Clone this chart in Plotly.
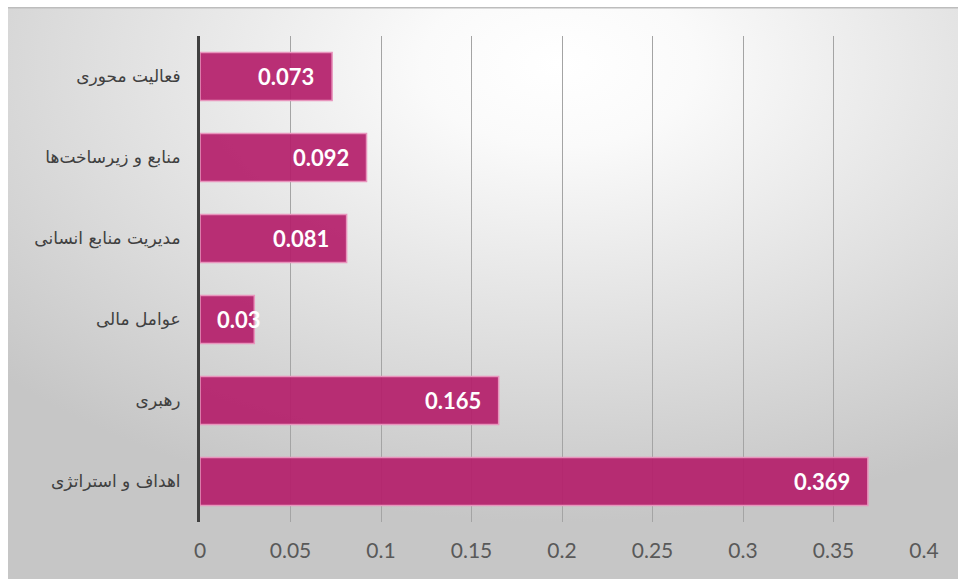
import base64
import plotly.graph_objects as go

categories = ["فعالیت محوری", "منابع و زیرساخت‌ها", "مدیریت منابع انسانی", "عوامل مالی", "رهبری", "اهداف و استراتژی"]
values = [0.073, 0.092, 0.081, 0.03, 0.165, 0.369]
tick_vals = [0, 0.05, 0.1, 0.15, 0.2, 0.25, 0.3, 0.35, 0.4]
tick_text = ["0", "0.05", "0.1", "0.15", "0.2", "0.25", "0.3", "0.35", "0.4"]

W, H = 958, 579
ML, MR, MT, MB = 200, 34, 36, 57
PW, PH = W - ML - MR, H - MT - MB

def px_to_paper_x(px):
    return (px - ML) / PW

def px_to_paper_y(py):
    return (H - MB - py) / PH

svg = '''<svg xmlns="http://www.w3.org/2000/svg" width="950" height="572" viewBox="0 0 950 572" preserveAspectRatio="none">
<defs><radialGradient id="g" cx="0.58" cy="0.1" r="0.8" gradientUnits="objectBoundingBox">
<stop offset="0" stop-color="#ffffff"/><stop offset="0.18" stop-color="#fafafa"/>
<stop offset="1" stop-color="#c6c6c6"/></radialGradient></defs>
<rect x="0" y="0" width="950" height="572" fill="url(#g)"/>
<line x1="0" y1="0.75" x2="950" y2="0.75" stroke="#bdbdbd" stroke-width="1.5"/>
</svg>'''
uri = "data:image/svg+xml;base64," + base64.b64encode(svg.encode("utf-8")).decode("ascii")

fig = go.Figure()
fig.add_trace(go.Bar(
    y=categories, x=values, orientation="h",
    marker=dict(color="rgba(180,30,106,0.92)", line=dict(color="#e895bd", width=1.5)),
    hoverinfo="skip",
))

xmax = 0.4
label_font = dict(family="Lato, 'Open Sans', sans-serif", size=22, color="white", weight="bold")
for c, v in zip(categories, values):
    bar_px = v / xmax * PW
    if bar_px > 95:
        fig.add_annotation(x=v, y=c, text=str(v), showarrow=False, xanchor="right",
                           xshift=-16, font=label_font)
    else:
        fig.add_annotation(x=0, y=c, text=str(v), showarrow=False, xanchor="left",
                           xshift=15, font=label_font)

x0 = px_to_paper_x(8)
x1 = px_to_paper_x(W)
y0 = px_to_paper_y(7)
y1 = px_to_paper_y(H)
fig.add_layout_image(dict(source=uri, xref="paper", yref="paper", x=x0, y=y0,
                          sizex=x1 - x0, sizey=y0 - y1, sizing="stretch",
                          xanchor="left", yanchor="top", layer="below"))

fig.update_layout(
    width=W, height=H,
    margin=dict(l=ML, r=MR, t=MT, b=MB),
    paper_bgcolor="white", plot_bgcolor="rgba(0,0,0,0)",
    bargap=0.41, showlegend=False,
    xaxis=dict(range=[0, xmax], tickvals=tick_vals, ticktext=tick_text,
               showgrid=True, gridcolor="#a4a4a4", gridwidth=1, zeroline=False,
               showline=False, ticks="", ticklabelstandoff=14,
               tickfont=dict(family="Lato, 'Open Sans', sans-serif", size=21, color="#595959")),
    yaxis=dict(categoryorder="array", categoryarray=categories, autorange="reversed",
               showline=True, linecolor="#404040", linewidth=3, showgrid=False,
               ticks="", ticklabelstandoff=13,
               tickfont=dict(family="'DejaVu Sans', sans-serif", size=17, color="#404040")),
)

fig.write_html("out.html")
